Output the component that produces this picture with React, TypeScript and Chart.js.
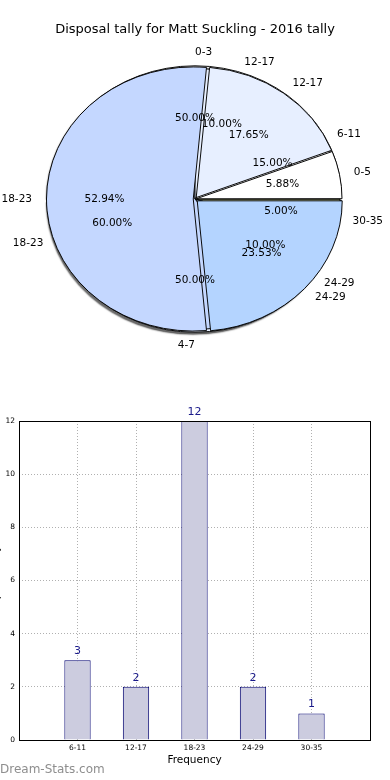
import React, { useEffect, useRef } from 'react';
import { Chart, registerables } from 'chart.js';

Chart.register(...registerables);

// ---------- data ----------
const TITLE = 'Disposal tally for Matt Suckling - 2016 tally';

const pieALabels = ['0-5', '12-17', '18-23', '24-29'];
const pieAValues = [1, 3, 9, 4];

const pieBLabels = ['6-11', '12-17', '18-23', '24-29', '30-35'];
const pieBValues = [3, 2, 12, 2, 1];

const pieCLabels = ['0-3', '4-7'];
const pieCValues = [1, 1];

const barCategories = ['6-11', '12-17', '18-23', '24-29', '30-35'];
const barValues = [3, 2, 12, 2, 1];

// ---------- styles ----------
const sliceColors = ['#ffffff', '#e7efff', '#c4d7ff', '#b4d4ff', '#e2e8a6'];
const explodeA = [5, 8, 7, 12];
const explodeB = [0, 0, 0, 0, 0];
const explodeC = [6, 6];

const R = 145;
const SY = 0.9;
const FONT = '"DejaVu Sans", "Liberation Sans", sans-serif';

function rev(a: any[]) {
  return a.slice().reverse();
}

function arcShift(arc: any) {
  const off = (arc.options.offset || 0) / 4;
  const circ = arc.endAngle - arc.startAngle;
  const fix = 1 - Math.sin(Math.min(Math.PI, circ || 0));
  return off + off * fix;
}

const ellipsePlugin = {
  id: 'ellipse',
  beforeDatasetsDraw(chart: any, _args: any, opts: any) {
    const ctx = chart.ctx;
    const arc = chart.getDatasetMeta(0).data[0];
    ctx.save();
    ctx.translate(arc.x, arc.y);
    ctx.scale(1, SY);
    ctx.translate(-arc.x, -arc.y);
    if (opts && opts.shadow) {
      ctx.shadowColor = 'rgba(0,0,0,0.6)';
      ctx.shadowOffsetX = -2;
      ctx.shadowOffsetY = 2;
      ctx.shadowBlur = 1.5;
    }
  },
  afterDatasetsDraw(chart: any) {
    chart.ctx.restore();
  },
};

function makeTextPlugin(sources: any[]) {
  return {
    id: 'pieText',
    afterDraw(chart: any) {
      const ctx = chart.ctx;
      ctx.save();
      ctx.fillStyle = '#000';
      ctx.textBaseline = 'middle';
      ctx.font = `13px ${FONT}`;
      ctx.textAlign = 'center';
      ctx.fillText(TITLE, chart.width / 2, 30);
      ctx.font = `10.5px ${FONT}`;
      const all = [...sources, chart];
      all.forEach((src: any) => {
        const meta = src.getDatasetMeta(0);
        const data = src.data.datasets[0].data as number[];
        const labels = src.data.labels as string[];
        const total = data.reduce((s, v) => s + v, 0);
        meta.data.forEach((arc: any, i: number) => {
          const mid = (arc.startAngle + arc.endAngle) / 2;
          const theta = 2 * Math.PI - mid;
          const shift = arcShift(arc);
          const c = Math.cos(mid);
          const s = Math.sin(mid);
          const lx = arc.x + c * (R * 1.1 + shift);
          const ly = arc.y + s * (R * 1.1 + shift) * SY;
          ctx.textAlign = Math.cos(theta) > 0 ? 'left' : 'right';
          ctx.fillText(labels[i], lx, ly);
          const px = arc.x + c * (R * 0.6 + shift);
          const py = arc.y + s * (R * 0.6 + shift) * SY;
          ctx.textAlign = 'center';
          ctx.fillText(((data[i] / total) * 100).toFixed(2) + '%', px, py);
        });
      });
      ctx.restore();
    },
  };
}

function makePie(canvas: HTMLCanvasElement, labels: string[], values: number[], explode: number[], shadow: boolean, textSources?: any[]) {
  const plugins: any[] = [ellipsePlugin];
  if (textSources) plugins.push(makeTextPlugin(textSources));
  return new Chart(canvas, {
    type: 'pie',
    data: {
      labels: rev(labels),
      datasets: [
        {
          data: rev(values),
          backgroundColor: rev(sliceColors.slice(0, values.length)),
          borderColor: '#000',
          borderWidth: 1,
          offset: rev(explode),
        } as any,
      ],
    },
    options: {
      animation: false,
      responsive: false,
      rotation: 90,
      radius: R,
      events: [],
      layout: { padding: 0 },
      plugins: {
        legend: { display: false },
        tooltip: { enabled: false },
        ellipse: { shadow },
      } as any,
    } as any,
    plugins,
  });
}

const barDecor = {
  id: 'barDecor',
  afterDraw(chart: any) {
    const { ctx, chartArea: ca } = chart;
    ctx.save();
    ctx.strokeStyle = '#000';
    ctx.lineWidth = 1;
    ctx.strokeRect(Math.round(ca.left) + 0.5, Math.round(ca.top) + 0.5, Math.round(ca.right - ca.left), Math.round(ca.bottom - ca.top));
    ctx.fillStyle = '#1a1a8a';
    ctx.font = `11px ${FONT}`;
    ctx.textAlign = 'center';
    ctx.textBaseline = 'middle';
    const ds = chart.data.datasets[0].data as any[];
    chart.getDatasetMeta(0).data.forEach((bar: any, i: number) => {
      ctx.fillText(String(ds[i].y), bar.x, bar.y - 9);
    });
    ctx.fillStyle = '#000';
    ctx.font = `10.5px ${FONT}`;
    ctx.fillText('Frequency', (ca.left + ca.right) / 2, ca.bottom + 20);
    ctx.save();
    ctx.translate(-3.5, (ca.top + ca.bottom) / 2);
    ctx.rotate(-Math.PI / 2);
    ctx.fillText('Disposal tally', 0, 0);
    ctx.restore();
    ctx.fillStyle = '#8e8e8e';
    ctx.font = `12px ${FONT}`;
    ctx.textAlign = 'left';
    ctx.fillText('Dream-Stats.com', 0, chart.height - 10);
    ctx.restore();
  },
};

export default function App() {
  const cRef = useRef<HTMLCanvasElement>(null);
  const bRef = useRef<HTMLCanvasElement>(null);
  const aRef = useRef<HTMLCanvasElement>(null);
  const barRef = useRef<HTMLCanvasElement>(null);

  useEffect(() => {
    const pieC = makePie(cRef.current!, pieCLabels, pieCValues, explodeC, true);
    const pieB = makePie(bRef.current!, pieBLabels, pieBValues, explodeB, false);
    const pieA = makePie(aRef.current!, pieALabels, pieAValues, explodeA, false, [pieC, pieB]);
    pieA.draw();

    const bar = new Chart(barRef.current!, {
      type: 'bar',
      data: {
        datasets: [
          {
            data: barCategories.map((c, i) => ({ x: i + 1, y: barValues[i] })),
            backgroundColor: '#ccccdf',
            borderColor: '#000070',
            borderWidth: 1,
            barPercentage: 0.45,
            categoryPercentage: 1,
          } as any,
        ],
      },
      options: {
        animation: false,
        responsive: false,
        events: [],
        layout: { padding: { top: 21, right: 20, left: 0, bottom: 0 } },
        plugins: { legend: { display: false }, tooltip: { enabled: false } },
        scales: {
          x: {
            type: 'linear',
            min: 0,
            max: barCategories.length + 1,
            offset: false,
            z: 1,
            afterFit: (s: any) => { s.height = 40; },
            afterBuildTicks: (s: any) => { s.ticks = barCategories.map((_, i) => ({ value: i + 1 })); },
            ticks: {
              autoSkip: false,
              maxRotation: 0,
              padding: 4,
              color: '#000',
              font: { family: FONT, size: 7.5 },
              callback: (v: any) => barCategories[Number(v) - 1] ?? '',
            },
            grid: { color: '#b0b0b0', drawTicks: false, offset: false },
            border: { display: false, dash: [1, 2] },
          },
          y: {
            min: 0,
            max: 12,
            z: 1,
            afterFit: (s: any) => { s.width = 19; },
            ticks: { stepSize: 2, padding: 4, color: '#000', font: { family: FONT, size: 7.5 } },
            grid: { color: '#b0b0b0', drawTicks: false },
            border: { display: false, dash: [1, 2] },
          },
        } as any,
      } as any,
      plugins: [barDecor],
    });

    return () => {
      pieA.destroy();
      pieB.destroy();
      pieC.destroy();
      bar.destroy();
    };
  }, []);

  const abs = (top: number, h: number): React.CSSProperties => ({
    position: 'absolute',
    left: 0,
    top,
    width: 390,
    height: h,
  });

  return (
    <div style={{ position: 'absolute', left: 0, top: 0, width: 390, height: 780, background: '#fff' }}>
      <canvas ref={cRef} width={390} height={398} style={abs(0, 398)} />
      <canvas ref={bRef} width={390} height={398} style={abs(0, 398)} />
      <canvas ref={aRef} width={390} height={398} style={abs(0, 398)} />
      <canvas ref={barRef} width={390} height={380} style={abs(400, 380)} />
    </div>
  );
}
